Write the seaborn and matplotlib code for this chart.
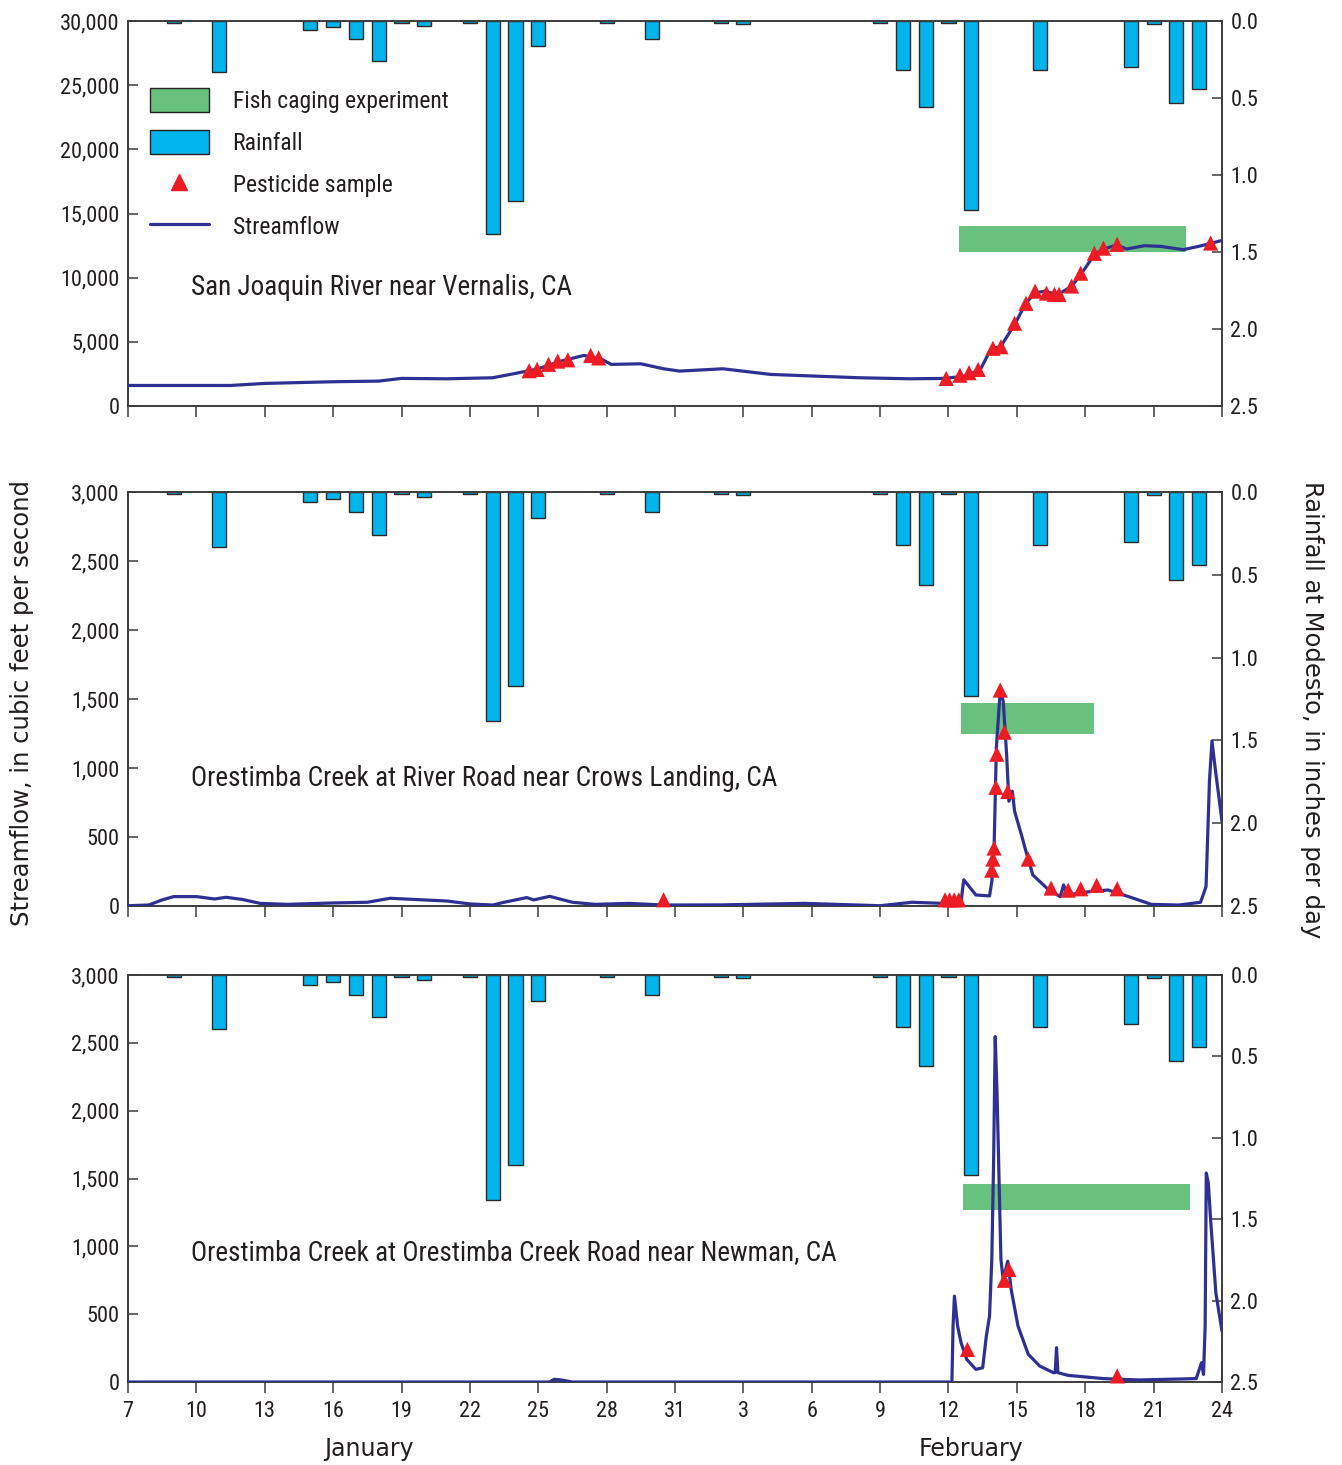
import matplotlib
matplotlib.use("Agg")
import matplotlib.pyplot as plt
import seaborn as sns
from matplotlib.patches import Patch
from matplotlib.lines import Line2D

# x values are days since January 7 (0 = Jan 7, 25 = Feb 1, 48 = Feb 24)
tick_days = list(range(0, 49, 3))
tick_labels = ["7", "10", "13", "16", "19", "22", "25", "28", "31",
               "3", "6", "9", "12", "15", "18", "21", "24"]

# daily rainfall at Modesto, inches per day
rain_days = [2, 4, 8, 9, 10, 11, 12, 13, 15, 16, 17, 18, 21, 23,
             26, 27, 33, 34, 35, 36, 37, 40, 44, 45, 46, 47]
rain_in = [0.01, 0.33, 0.06, 0.04, 0.12, 0.26, 0.01, 0.03, 0.01, 1.38, 1.17, 0.16, 0.01, 0.12,
           0.01, 0.02, 0.01, 0.32, 0.56, 0.01, 1.23, 0.32, 0.30, 0.02, 0.53, 0.44]

# San Joaquin River near Vernalis
sj_days = [0, 4.5, 6, 9, 11, 12, 14, 16, 17, 18, 19, 20, 20.8, 21.2, 22.5, 23.5, 24.2,
           26.1, 28.2, 32.1, 34.3, 35.8, 36.75, 37.4, 37.85, 38.3, 38.9, 39.4, 39.8, 40.2,
           40.8, 41.4, 41.8, 42.4, 42.8, 43.4, 43.8, 44.6, 45.3, 46.3, 47.1, 48]
sj_flow = [1600, 1600, 1760, 1890, 1940, 2150, 2120, 2200, 2540, 2900, 3500, 3940, 3630,
           3240, 3290, 2900, 2720, 2900, 2460, 2200, 2120, 2150, 2330, 2850, 4400, 4660,
           6350, 8030, 8810, 8940, 8680, 9330, 10230, 11790, 12230, 12560, 12230, 12490,
           12440, 12180, 12490, 12900]
sj_samp_days = [17.6, 17.95, 18.45, 18.85, 19.3, 20.3, 20.65, 35.9, 36.5, 36.9, 37.3, 37.95,
                38.3, 38.9, 39.4, 39.8, 40.3, 40.65, 40.85, 41.4, 41.8, 42.4, 42.8, 43.4, 47.5]
sj_samp_flow = [2750, 2850, 3250, 3500, 3600, 3950, 3750, 2150, 2400, 2600, 2850, 4500,
                4620, 6450, 8000, 8950, 8800, 8700, 8700, 9350, 10350, 11900, 12300, 12600, 12700]

# Orestimba Creek at River Road near Crows Landing
cl_days = [0, 0.9, 1.5, 2, 3, 3.8, 4.3, 5, 5.8, 7, 9, 10.5, 11.5, 12.5, 14, 15, 16, 16.5,
           17, 17.5, 17.8, 18.5, 19.5, 20.5, 22, 23.5, 26, 29.7, 33, 34.4, 35.8, 36.55,
           36.6, 36.67, 37.2, 37.8, 37.9, 38.0, 38.1, 38.27, 38.4, 38.55, 38.65, 38.8, 38.9,
           39.2, 39.4, 39.7, 40.4, 40.9, 41.05, 41.2, 42.2, 43.0, 43.9, 44.9, 46.1, 47.06,
           47.3, 47.45, 47.56, 47.7, 48]
cl_flow = [2, 7, 44, 68, 68, 51, 63, 48, 19, 12, 22, 27, 56, 48, 36, 15, 7, 27, 44, 61, 44,
           70, 27, 12, 19, 7, 8, 19, 2, 27, 19, 10, 100, 190, 80, 73, 177, 420, 1147, 1560,
           1487, 1098, 759, 832, 686, 516, 395, 225, 116, 68, 153, 80, 104, 116, 68, 12, 7,
           27, 141, 905, 1196, 1000, 614]
cl_samp_days = [23.5, 35.85, 36.05, 36.25, 36.45, 37.9, 37.95, 38.0, 38.08, 38.12, 38.27,
                38.45, 38.6, 39.5, 40.5, 41.25, 41.8, 42.5, 43.4]
cl_samp_flow = [45, 45, 45, 45, 45, 260, 340, 420, 860, 1100, 1565, 1260, 830, 340, 130,
                115, 125, 150, 125]

# Orestimba Creek at Orestimba Creek Road near Newman
nm_days = [0, 18.5, 18.7, 19.0, 19.5, 36.15, 36.2, 36.26, 36.4, 36.55, 36.8, 37.2, 37.5,
           37.66, 37.8, 37.9, 37.98, 38.05, 38.13, 38.3, 38.4, 38.6, 38.75, 39.05, 39.5,
           40.0, 40.6, 40.68, 40.74, 40.8, 41.24, 42.8, 44.37, 46.87, 47.1, 47.19, 47.26,
           47.31, 47.4, 47.5, 47.73, 48]
nm_flow = [0, 0, 20, 15, 0, 0, 412, 633, 412, 290, 167, 93, 105, 339, 486, 903, 1640, 2546,
           2130, 903, 756, 890, 682, 412, 204, 118, 69, 69, 253, 69, 49, 25, 15, 25, 142, 56,
           412, 1540, 1467, 1197, 657, 375]
nm_samp_days = [36.83, 38.45, 38.65, 43.4]
nm_samp_flow = [240, 750, 830, 45]

# fish caging experiment: start day, end day, low and high flow of the band
cage_sj = [36.45, 46.44, 12000, 14000]
cage_cl = [36.55, 42.39, 1250, 1470]
cage_nm = [36.64, 46.6, 1270, 1460]

station_names = ["San Joaquin River near Vernalis, CA",
                 "Orestimba Creek at River Road near Crows Landing, CA",
                 "Orestimba Creek at Orestimba Creek Road near Newman, CA"]

BLUE_LINE = "#2E3192"
RAIN = "#00B5EB"
GREEN = "#68C17C"
RED = "#ED1C24"
INK = "#231F20"
SPINE = "#3C3C3C"
COND = ["Roboto Condensed", "Archivo Narrow", "DejaVu Sans"]
WIDE = ["DejaVu Sans"]

sns.set_theme(style="ticks")
plt.rcParams["font.family"] = COND
plt.rcParams["text.color"] = INK
plt.rcParams["xtick.color"] = SPINE
plt.rcParams["ytick.color"] = SPINE
plt.rcParams["xtick.labelcolor"] = INK
plt.rcParams["ytick.labelcolor"] = INK

fig = plt.figure(figsize=(13.42, 14.65), dpi=100)
W, H = 1342, 1465
boxes = [(21, 406), (492, 906), (975, 1382)]
panels = [
    (sj_days, sj_flow, sj_samp_days, sj_samp_flow, cage_sj, 30000, 5000),
    (cl_days, cl_flow, cl_samp_days, cl_samp_flow, cage_cl, 3000, 500),
    (nm_days, nm_flow, nm_samp_days, nm_samp_flow, cage_nm, 3000, 500),
]
label_y = [0.309, 0.307, 0.319]

for i, ((top, bot), (fd, fq, sd, sq, cage, ymax, ystep)) in enumerate(zip(boxes, panels)):
    ax = fig.add_axes([128 / W, 1 - bot / H, (1222 - 128) / W, (bot - top) / H])
    ax2 = ax.twinx()
    ax.set_zorder(ax2.get_zorder() + 1)
    ax.patch.set_visible(False)

    # rainfall bars hanging from the top
    ax2.bar(rain_days, rain_in, width=0.62, color=RAIN, edgecolor="#2a2a2a", linewidth=1.0)
    ax2.set_ylim(2.5, 0)
    ax2.set_yticks([0, 0.5, 1.0, 1.5, 2.0, 2.5])
    ax2.set_yticklabels(["0.0", "0.5", "1.0", "1.5", "2.0", "2.5"])

    # fish caging band
    ax.bar(cage[0], cage[3] - cage[2], width=cage[1] - cage[0], bottom=cage[2],
           align="edge", color=GREEN, linewidth=0, zorder=1)
    sns.lineplot(x=fd, y=fq, ax=ax, color=BLUE_LINE, linewidth=2.3, zorder=3)
    sns.scatterplot(x=sd, y=sq, ax=ax, marker="^", s=120, color=RED, edgecolor="none",
                    linewidth=0, zorder=4, clip_on=False)

    ax.set_xlim(0, 48)
    ax.set_ylim(0, ymax)
    yt = list(range(0, ymax + 1, ystep))
    ax.set_yticks(yt)
    ax.set_yticklabels([f"{v:,}" for v in yt])
    ax.set_xticks(tick_days)
    ax.set_xticklabels(tick_labels)
    ax.set_xlabel("")
    ax.set_ylabel("")

    for a in (ax, ax2):
        for s in a.spines.values():
            s.set_visible(True)
            s.set_color(SPINE)
            s.set_linewidth(1.2)
    ax.tick_params(axis="y", direction="in", length=7, width=1.1, labelsize=16, pad=6)
    ax2.tick_params(axis="y", direction="in", length=7, width=1.1, labelsize=16, pad=6)
    ax.tick_params(axis="x", direction="out", length=8, width=1.1, labelsize=16, pad=6,
                   labelbottom=(i == 2))

    ax.text(2.76, label_y[i], station_names[i], transform=ax.get_xaxis_transform(),
            fontsize=19.5, va="center", ha="left", color=INK)

    if i == 0:
        handles = [
            Patch(facecolor=GREEN, edgecolor="#222222", linewidth=1.0),
            Patch(facecolor=RAIN, edgecolor="#222222", linewidth=1.0),
            Line2D([], [], linestyle="none", marker="^", markersize=11, color=RED),
            Line2D([], [], color=BLUE_LINE, linewidth=2.3),
        ]
        ax.legend(handles, ["Fish caging experiment", "Rainfall", "Pesticide sample", "Streamflow"],
                  loc="upper left", bbox_to_anchor=(0.02, 0.826), frameon=False, fontsize=17,
                  handlelength=2.5, handleheight=1.2, handletextpad=1.0, labelspacing=0.72,
                  borderpad=0, borderaxespad=0)

    if i == 2:
        ax.text(10.57, -0.165, "January", transform=ax.get_xaxis_transform(),
                fontsize=17, ha="center", va="center", color=INK, family=WIDE)
        ax.text(37.0, -0.165, "February", transform=ax.get_xaxis_transform(),
                fontsize=17, ha="center", va="center", color=INK, family=WIDE)

fig.text(22 / W, 1 - 703 / H, "Streamflow, in cubic feet per second", rotation=90,
         ha="center", va="center", fontsize=17.5, family=WIDE, color=INK)
fig.text(1312 / W, 1 - 710 / H, "Rainfall at Modesto, in inches per day", rotation=270,
         ha="center", va="center", fontsize=17.5, family=WIDE, color=INK)

fig.savefig("out.png", dpi=100)
